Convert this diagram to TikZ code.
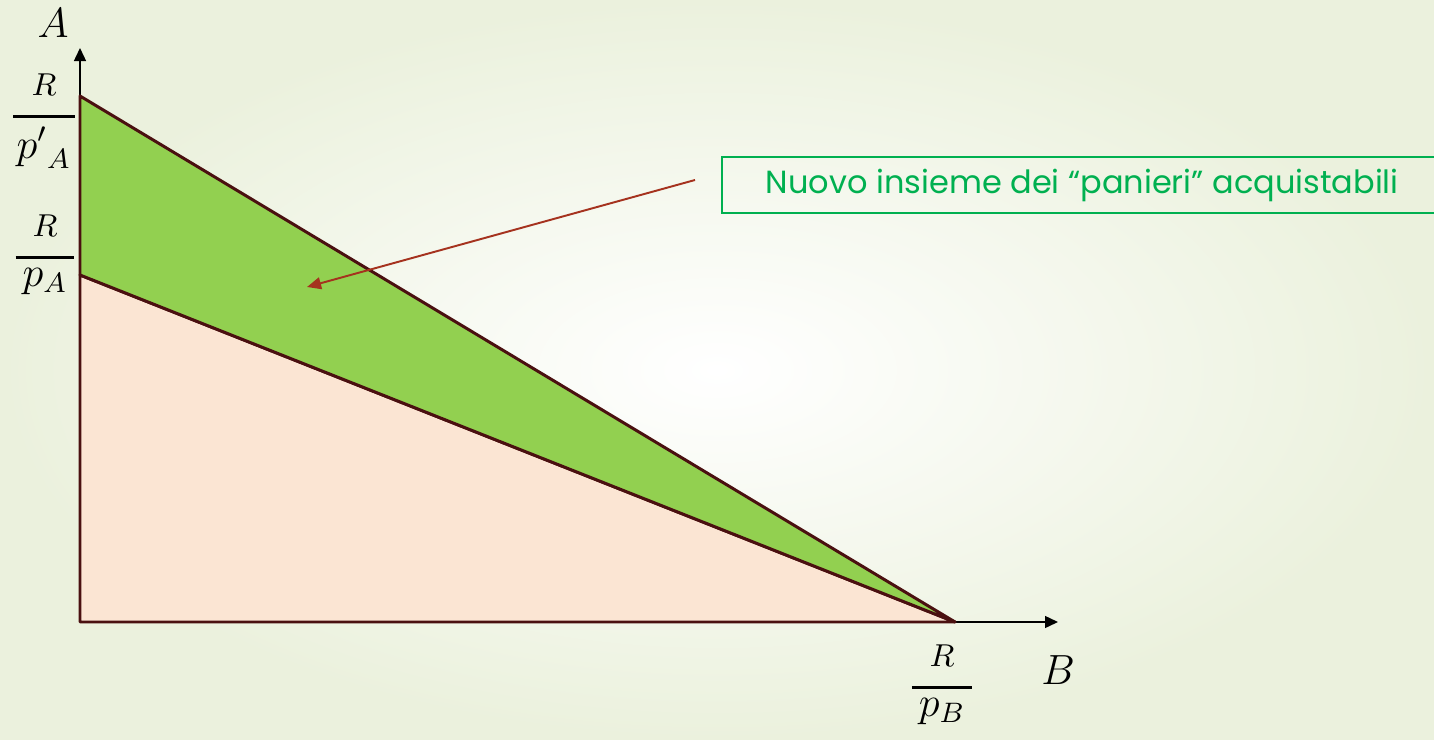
\documentclass[tikz,border=0pt]{standalone}
\usepackage{amsmath}
\usepackage{fontspec}
\setsansfont{Poppins}
\usetikzlibrary{arrows.meta, positioning, calc}
\definecolor{BudgetGreen}{HTML}{92D050}
\definecolor{BudgetPeach}{HTML}{FBE5D3}
\definecolor{BudgetEdge}{HTML}{4A1010}
\definecolor{NoteGreen}{HTML}{00B050}
\definecolor{NoteArrow}{HTML}{A5321E}
\definecolor{PaleSage}{HTML}{EBF1DD}
\tikzset{
    % Area styles
    newset/.style={
        fill=BudgetGreen,
        draw=BudgetEdge,
        line width=0.85pt,
        line join=round
    },
    oldset/.style={
        fill=BudgetPeach,
        draw=BudgetEdge,
        line width=0.85pt,
        line join=round
    },
    % Axis and labels
    axis/.style={
        -{Triangle[length=3.7pt,width=3.4pt]},
        line width=0.45pt,
        draw=black
    },
    axislabel/.style={
        inner sep=0pt,
        font=\fontsize{11.5}{13}\selectfont
    },
    fraclabel/.style={
        inner sep=0pt,
        anchor=base,
        font=\fontsize{9.5}{11}\selectfont
    },
    % Callout
    note/.style={
        rectangle,
        draw=NoteGreen,
        line width=0.6pt,
        text=NoteGreen,
        minimum width=7.2cm,
        minimum height=0.56cm,
        font=\sffamily\fontsize{9.1}{11}\selectfont
    },
    notearrow/.style={
        -{Triangle[length=4pt,width=3.4pt]},
        line width=0.55pt,
        draw=NoteArrow
    }
}
\newcommand{\budgetfrac}[2][\,]{$\displaystyle\genfrac{}{}{0.9pt}{0}{R\rule[-2.6pt]{0pt}{0pt}}{\text{\fontsize{12}{14}\selectfont$#1#2#1$}}$}

\begin{document}
\begin{tikzpicture}[x=0.01cm, y=-0.01cm]
    % Canvas
    \useasboundingbox (0,0) rectangle (1434,740);
    \shade[inner color=white, outer color=PaleSage] (0,0) rectangle (1434,740);

    % Corners of the budget sets
    \coordinate (O) at (80,622);
    \coordinate (Anew) at (80,96);
    \coordinate (Aold) at (80,275);
    \coordinate (Bmax) at (955,622);
    \coordinate (Atip) at (80,48);
    \coordinate (Btip) at (1058,622);

    % Axes
    \draw[axis] (O) -- (Atip);
    \draw[axis] (O) -- (Btip);

    % Budget sets
    \draw[oldset] (O) -- (Aold) -- (Bmax) -- cycle;
    \draw[newset] (Aold) -- (Anew) -- (Bmax) -- cycle;

    % Labels
    \node[axislabel] (labA) at (53,23) {$A$};
    \node[axislabel] (labB) at (1058,670) {$B$};
    \node[fraclabel] (fnew) at (44,124) {\budgetfrac[\hspace{1pt}]{{p'}_{A}}};
    \node[fraclabel] (fold) at (45,265) {\budgetfrac{p_A}};
    \node[fraclabel] (fB) at (942,695) {\budgetfrac{p_B}};

    % Callout
    \node[note, anchor=west] (note) at (721,185) {Nuovo insieme dei “panieri” acquistabili};
    \coordinate (tail) at (695,180);
    \coordinate (head) at (307,287);
    \draw[notearrow] (tail) -- (head);
\end{tikzpicture}
\end{document}
